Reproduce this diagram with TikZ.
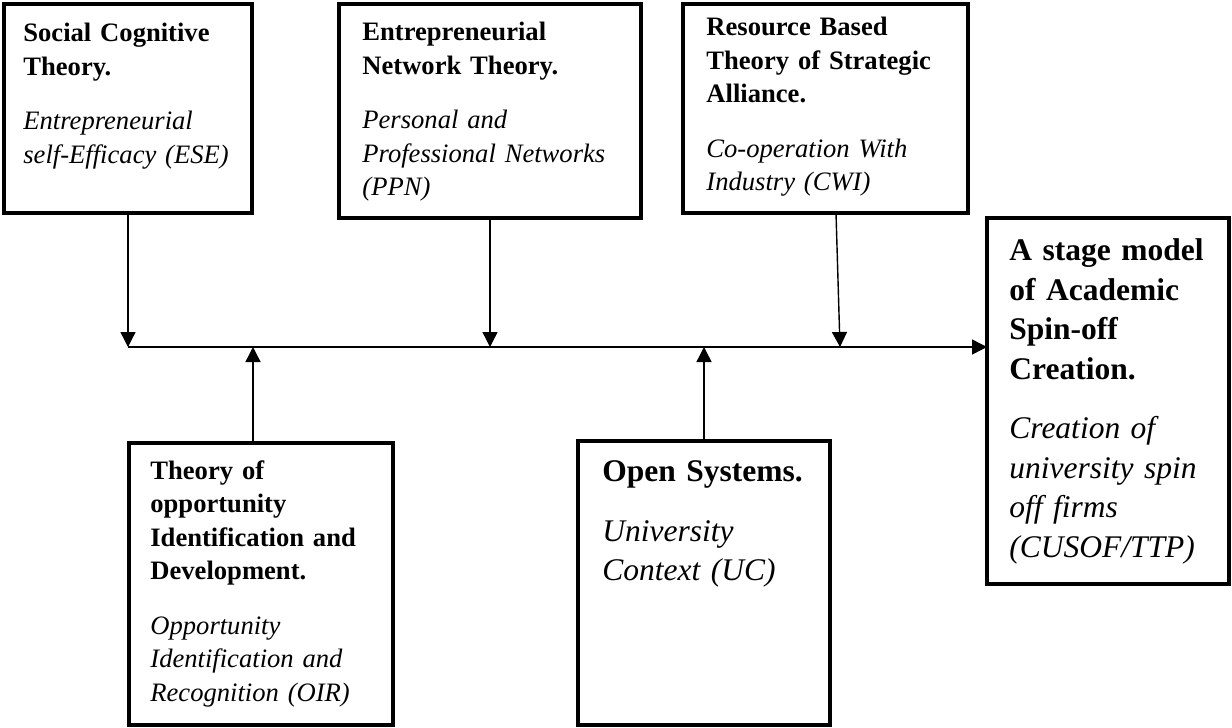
\documentclass[tikz,border=0pt]{standalone}
\usepackage{fontspec}
\setmainfont{Liberation Serif}
\usetikzlibrary{arrows.meta}

\begin{document}
\begin{tikzpicture}[x=0.5pt, y=-0.5pt,
	box/.style={draw, line width=1.7pt, anchor=north west, inner sep=0pt, outer sep=0pt},
	small/.style={anchor=north west, inner sep=0pt, align=left, text width=135pt, font=\fontsize{13.3pt}{16.75pt}\selectfont},
	big/.style={anchor=north west, inner sep=0pt, align=left, text width=112pt, font=\fontsize{15.75pt}{19.75pt}\selectfont},
	arr/.style={line width=0.7pt, -{Triangle[length=7.5pt, width=7.5pt]}}]
\useasboundingbox (0,0) rectangle (1232,728);
% boxes
\node[box, minimum width=124pt, minimum height=104.5pt] (sct) at (4,4) {};
\node[box, minimum width=151pt, minimum height=107pt] (ent) at (339,4) {};
\node[box, minimum width=142.5pt, minimum height=104.5pt] (rbt) at (683,4) {};
\node[box, minimum width=121pt, minimum height=183pt] (stage) at (987,218) {};
\node[box, minimum width=132pt, minimum height=141pt] (toi) at (129,443) {};
\node[box, minimum width=126pt, minimum height=142pt] (os) at (578,441) {};
% texts
\node[small] (sct-txt) at (23,23) {{\bfseries Social Cognitive\\ Theory.}\\[10.5pt] \itshape Entrepreneurial\\ self-Efficacy (ESE)};
\node[small] (ent-txt) at (362,22) {{\bfseries Entrepreneurial\\ Network Theory.}\\[10.5pt] \itshape Personal and\\ Professional Networks\\ (PPN)};
\node[small] (rbt-txt) at (706,17) {{\bfseries Resource Based\\ Theory of Strategic\\ Alliance.}\\[10.5pt] \itshape Co-operation With\\ Industry (CWI)};
\node[small] (toi-txt) at (150,460) {{\bfseries Theory of\\ opportunity\\ Identification and\\ Development.}\\[10.5pt] \itshape Opportunity\\ Identification and\\ Recognition (OIR)};
\node[big] (os-txt) at (602,460.5) {{\bfseries Open Systems.}\\[10pt] \itshape University\\ Context (UC)};
\node[big] (stage-txt) at (1009,238.5) {{\bfseries A stage model\\ of Academic\\ Spin-off\\ Creation.}\\[10pt] \itshape Creation of\\ university spin\\ off firms\\ (CUSOF/TTP)};
% connectors
\coordinate (hub) at (128,347);
\draw[arr] (hub) -- (hub -| stage.west);
\draw[arr] (sct.south) -- (sct.south |- hub);
\draw[arr] (ent.south) -- (ent.south |- hub);
\draw[arr] ([xshift=5.25pt]rbt.south) -- ([xshift=7.25pt]rbt.south |- hub);
\draw[arr] ([xshift=-4pt]toi.north) -- ([xshift=-4pt]toi.north |- hub);
\draw[arr] (os.north) -- (os.north |- hub);
\end{tikzpicture}
\end{document}
